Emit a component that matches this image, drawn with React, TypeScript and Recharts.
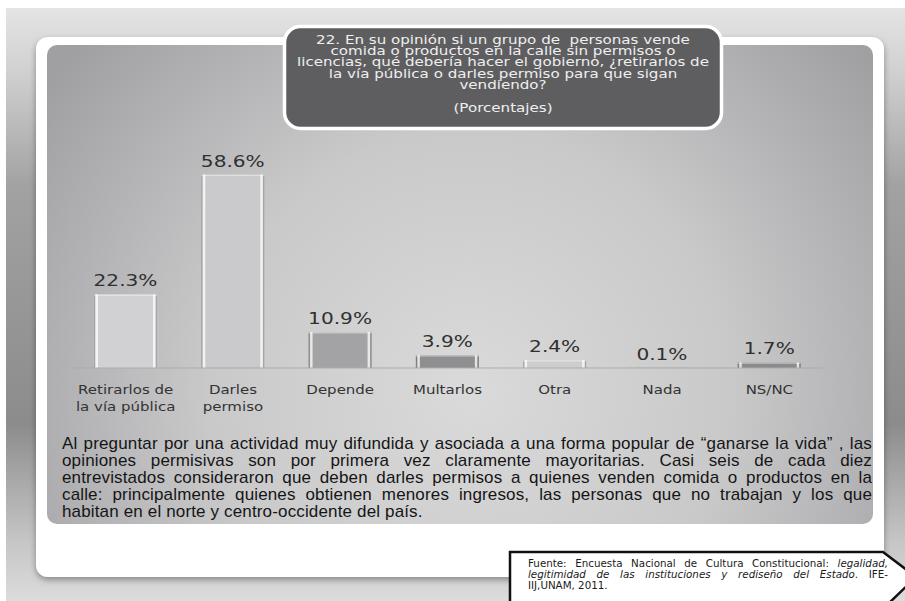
import React from 'react';
import { BarChart, Bar, XAxis, YAxis, Cell, LabelList } from 'recharts';

const categories = ['Retirarlos de\nla vía pública', 'Darles\npermiso', 'Depende', 'Multarlos', 'Otra', 'Nada', 'NS/NC'];
const percentages = [22.3, 58.6, 10.9, 3.9, 2.4, 0.1, 1.7];
const barColors = ['#d1d1d3', '#cacacc', '#a3a3a5', '#8f8f91', '#cdcdcf', '#9a9a9c', '#8b8b8d'];

const titleLines = [
  '22. En su opinión si un grupo de  personas vende',
  'comida o productos en la calle sin permisos o',
  'licencias, qué debería hacer el gobierno, ¿retirarlos de',
  'la vía pública o darles permiso para que sigan',
  'vendiendo?',
];
const titleNote = '(Porcentajes)';

const bodyLines = [
  'Al preguntar por una actividad muy difundida y asociada a una forma popular de “ganarse la vida” , las',
  'opiniones permisivas son por primera vez claramente mayoritarias. Casi seis de cada diez',
  'entrevistados consideraron que deben darles permisos a quienes venden comida o productos en la',
  'calle: principalmente quienes obtienen menores ingresos, las personas que no trabajan y los que',
  'habitan en el norte y centro-occidente del país.',
];

const sourcePlain1 = 'Fuente: Encuesta Nacional de Cultura Constitucional: ';
const sourceItalic1 = 'legalidad,';
const sourceItalic2 = 'legitimidad de las instituciones y rediseño del Estado';
const sourcePlain2 = '. IFE-';
const sourceLine3 = 'IIJ,UNAM, 2011.';

const data = categories.map((name, i) => ({ name, value: percentages[i] }));

const CategoryTick = (props: any) => {
  const { x, y, payload } = props;
  const lines = String(payload.value).split('\n');
  return (
    <g transform={`translate(${x},${y})`}>
      {lines.map((ln: string, i: number) => (
        <text
          key={i}
          transform={`translate(0,${17.5 + i * 17}) scale(1.2,1)`}
          textAnchor="middle"
          fontFamily="DejaVu Sans, Verdana, sans-serif"
          fontSize={12.5}
          fill="#333333"
        >
          {ln}
        </text>
      ))}
    </g>
  );
};

const ValueLabel = (props: any) => {
  const { x, y, width, value } = props;
  const cx = Number(x) + Number(width) / 2;
  return (
    <text
      transform={`translate(${cx},${Number(y) - 8}) scale(1.22,1)`}
      textAnchor="middle"
      fontFamily="DejaVu Sans, Verdana, sans-serif"
      fontSize={16.5}
      fill="#303030"
    >
      {`${Number(value).toFixed(1)}%`}
    </text>
  );
};

const BevelBar = (props: any) => {
  const { x, y, width, height, index } = props;
  const fill = props.fill || barColors[index];
  const h = Math.max(Number(height) || 0, 0);
  if (!width) return null;
  return (
    <g>
      <rect x={x} y={y} width={width} height={h} fill={fill} />
      <rect x={x} y={y} width={1.2} height={h} fill="#6e6e70" opacity={0.45} />
      <rect x={x + 1.5} y={y} width={2.5} height={h} fill="#ffffff" opacity={0.75} />
      <rect x={x + width - 4} y={y} width={2.5} height={h} fill="#ffffff" opacity={0.75} />
      <rect x={x + width - 1.2} y={y} width={1.2} height={h} fill="#6e6e70" opacity={0.45} />
      <rect x={x} y={y} width={width} height={Math.min(1.5, h)} fill="#ffffff" opacity={0.4} />
    </g>
  );
};

export default function App() {
  return (
    <div style={{ position: 'absolute', left: 0, top: 0, width: 905, height: 601, overflow: 'hidden', background: '#ffffff' }}>
      <svg width={905} height={601} style={{ position: 'absolute', left: 0, top: 0 }}>
        <defs>
          <linearGradient id="pageBg" x1="0" y1="0" x2="0" y2="1">
            <stop offset="0" stopColor="#e4e4e4" />
            <stop offset="0.1" stopColor="#d2d2d2" />
            <stop offset="0.3" stopColor="#a2a2a2" />
            <stop offset="0.7" stopColor="#8c8c8c" />
            <stop offset="0.9" stopColor="#c6c6c6" />
            <stop offset="1" stopColor="#dcdcdc" />
          </linearGradient>
          <radialGradient id="panelBg" gradientUnits="userSpaceOnUse" cx="470" cy="390" r="520">
            <stop offset="0" stopColor="#dadada" />
            <stop offset="0.5" stopColor="#c9c9ca" />
            <stop offset="1" stopColor="#a0a0a3" />
          </radialGradient>
          <filter id="shadow" x="-5%" y="-5%" width="110%" height="115%">
            <feDropShadow dx="0" dy="3" stdDeviation="3" floodColor="#000" floodOpacity="0.35" />
          </filter>
        </defs>
        <rect x={6} y={8} width={899} height={593} fill="url(#pageBg)" />
        <rect x={36} y={37} width={848} height={540} rx={12} fill="#ffffff" filter="url(#shadow)" />
        <rect x={47} y={45} width={826} height={479} rx={10} fill="url(#panelBg)" />
        <rect x={284.5} y={26.5} width={437} height={102} rx={16} fill="#5e5e60" stroke="#ffffff" strokeWidth={3.5} />
        {titleLines.map((ln, i) => (
          <text
            key={i}
            transform={`translate(503,${43.6 + i * 11.35}) scale(1.26,1)`}
            textAnchor="middle"
            fontFamily="DejaVu Sans, Verdana, sans-serif"
            fontSize={12}
            fill="#efefef"
            style={{ whiteSpace: 'pre' }}
          >
            {ln}
          </text>
        ))}
        <text
          transform="translate(503,112.3) scale(1.26,1)"
          textAnchor="middle"
          fontFamily="DejaVu Sans, Verdana, sans-serif"
          fontSize={12}
          fill="#efefef"
        >
          {titleNote}
        </text>
        <polygon points="510,552 883,552 916,577 886,606 510,606" fill="#ffffff" stroke="#111111" strokeWidth={2.5} />
      </svg>

      <div style={{ position: 'absolute', left: 0, top: 0 }}>
        <BarChart width={905} height={601} data={data} margin={{ top: 170, right: 82, left: 72, bottom: 188 }}>
          <YAxis hide domain={[0, 60]} />
          <XAxis
            dataKey="name"
            axisLine={{ stroke: '#ababab', strokeWidth: 1 }}
            tickLine={false}
            interval={0}
            height={45}
            tick={<CategoryTick />}
          />
          <Bar dataKey="value" barSize={63} isAnimationActive={false} shape={<BevelBar />}>
            {data.map((d, i) => (
              <Cell key={d.name} fill={barColors[i]} />
            ))}
            <LabelList dataKey="value" content={<ValueLabel />} />
          </Bar>
        </BarChart>
      </div>

      <div
        style={{
          position: 'absolute',
          left: 62,
          top: 435,
          width: 810,
          fontFamily: '"Liberation Sans", Arial, sans-serif',
          fontSize: 17,
          lineHeight: '17px',
          color: '#151515',
          letterSpacing: 0.15,
        }}
      >
        {bodyLines.map((ln, i) => (
          <div
            key={i}
            style={{
              whiteSpace: 'nowrap',
              textAlign: i === bodyLines.length - 1 ? 'left' : 'justify',
              textAlignLast: i === bodyLines.length - 1 ? 'left' : 'justify',
            }}
          >
            {ln}
          </div>
        ))}
      </div>

      <div
        style={{
          position: 'absolute',
          left: 528,
          top: 558,
          width: 360,
          fontFamily: '"DejaVu Sans", Verdana, sans-serif',
          fontSize: 10.3,
          lineHeight: '11px',
          color: '#1a1a1a',
        }}
      >
        <div style={{ whiteSpace: 'nowrap', textAlign: 'justify', textAlignLast: 'justify' }}>
          {sourcePlain1}
          <i>{sourceItalic1}</i>
        </div>
        <div style={{ whiteSpace: 'nowrap', textAlign: 'justify', textAlignLast: 'justify' }}>
          <i>{sourceItalic2}</i>
          {sourcePlain2}
        </div>
        <div style={{ whiteSpace: 'nowrap' }}>{sourceLine3}</div>
      </div>
    </div>
  );
}
